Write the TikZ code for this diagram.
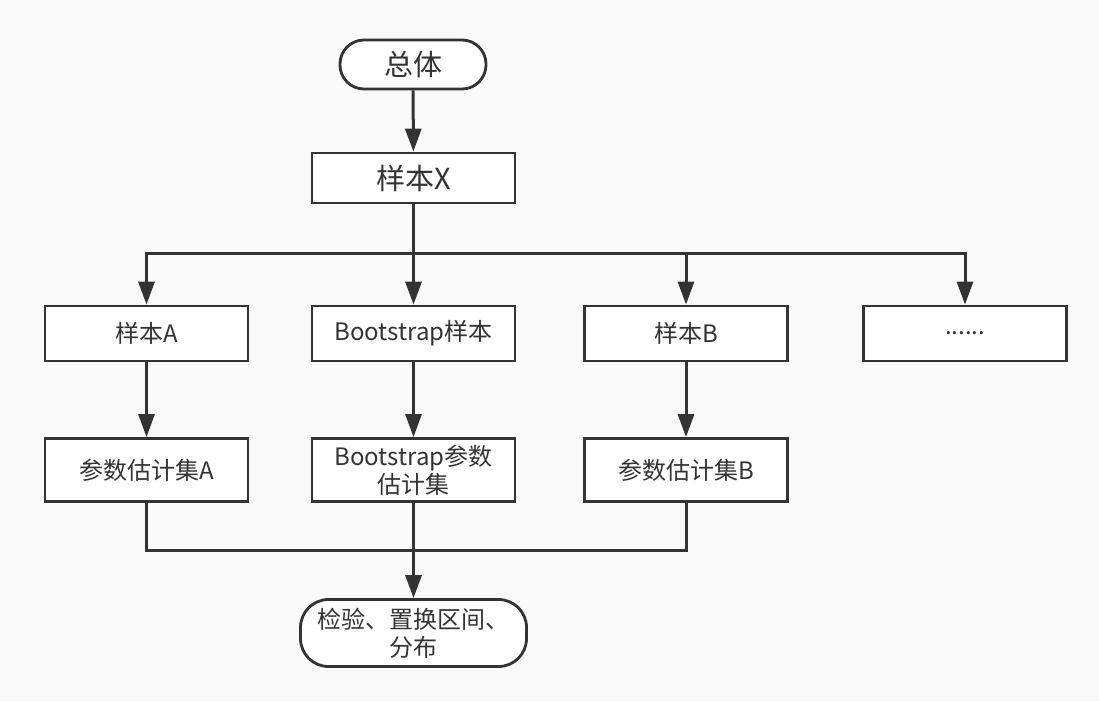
\documentclass[tikz,border=0pt]{standalone}
\usepackage{fontspec}
\setmainfont{Noto Sans CJK SC}
\usetikzlibrary{arrows.meta}
\definecolor{ink}{HTML}{333333}
\definecolor{bg}{HTML}{F9F9F9}
\begin{document}
\begin{tikzpicture}[x=1pt,y=-1pt,
  box/.style={draw=ink,line width=2.8pt,fill=white,text=ink,inner sep=0pt,align=center},
  rowbox/.style={box,minimum width=203pt,font=\fontsize{24}{28}\selectfont},
  conn/.style={draw=ink,line width=3pt},
  arr/.style={conn,-{Triangle[length=23pt,width=16pt]}}]
\fill[bg] (0,0) rectangle (1099,701);
\useasboundingbox (0,0) rectangle (1099,701);
\node[box,rounded corners=24pt,minimum width=146pt,minimum height=49pt,font=\fontsize{29}{34}\selectfont] (top) at (413,64.5) {总体};
\node[box,minimum width=203pt,minimum height=50pt,font=\fontsize{29}{34}\selectfont] (X) at (413.5,178) {样本X};
\node[rowbox,minimum height=55pt] (A) at (146.5,333.5) {样本A};
\node[rowbox,minimum height=55pt] (Bs) at (413.5,333.5) {Bootstrap样本};
\node[rowbox,minimum height=55pt] (B) at (686,333.5) {样本B};
\node[rowbox,minimum height=55pt] (D) at (965,333.5) {......};
\node[rowbox,minimum height=63pt] (PA) at (146.5,470) {参数估计集A};
\node[rowbox,minimum height=63pt] (PBs) at (413.5,470) {Bootstrap参数\\估计集};
\node[rowbox,minimum height=63pt] (PB) at (686,470) {参数估计集B};
\node[box,rounded corners=28pt,minimum width=226pt,minimum height=67pt,font=\fontsize{24}{28}\selectfont] (res) at (413.5,633) {检验、置换区间、\\分布};
\coordinate (bus) at (413.5,253);
\coordinate (low) at (413.5,550);
\draw[arr] (top) -- (X);
\draw[arr] (X) -- (Bs);
\draw[arr] (bus) -| (A.north);
\draw[arr] (bus) -| (B.north);
\draw[arr] (bus) -| (D.north);
\draw[arr] (A) -- (PA);
\draw[arr] (Bs) -- (PBs);
\draw[arr] (B) -- (PB);
\draw[conn] (PA.south) |- (low);
\draw[conn] (PB.south) |- (low);
\draw[arr] (PBs) -- (res);
\end{tikzpicture}
\end{document}
